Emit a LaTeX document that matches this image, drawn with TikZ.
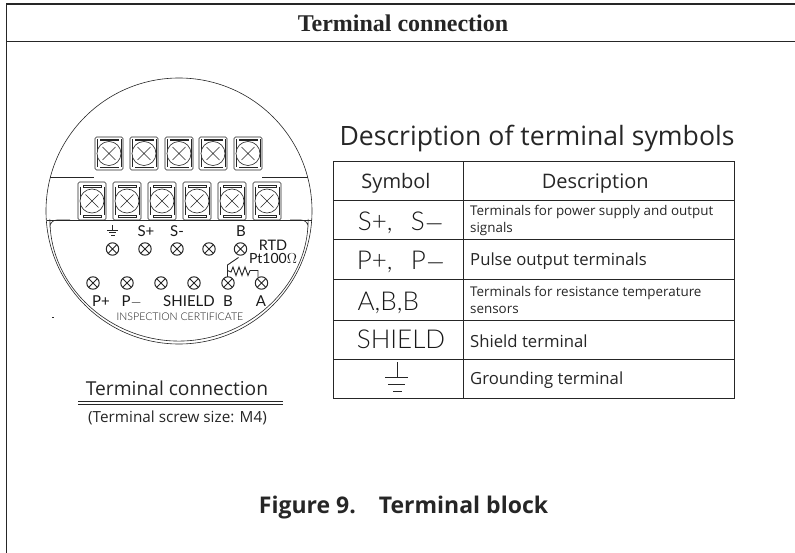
\documentclass[tikz,border=0pt]{standalone}
\usepackage{fontspec}
\setmainfont{Open Sans}
\newfontfamily\headfont{Liberation Serif}
\newfontfamily\cadfont{Lato Light}
\newfontfamily\blockfont{Lato}
\tikzset{
  plate/.style={line width=0.6pt, color=black!85},
  wire/.style={line width=0.9pt, color=black!85},
  rule/.style={line width=1pt, color=black!85},
  cadtext/.style={inner sep=0pt, text=black!90, anchor=base},
  desc/.style={anchor=west, inner sep=0pt, align=left, text=black!85},
  capt/.style={inner sep=0pt, text=black!85, anchor=base}
}
% one clamp of the terminal block: x y height
\newcommand{\clamp}[3]{
  \draw[plate,rounded corners=1.5pt] (#1-14,#2-#3/2) rectangle (#1+14,#2+#3/2);
  \draw[plate] (#1-12,#2-14) -- (#1-12,#2+14) (#1+12,#2-14) -- (#1+12,#2+14);
  \draw[plate] (#1-9,#2-14) rectangle (#1+9,#2-#3/2+3);
  \draw[plate] (#1-9,#2+14) rectangle (#1+9,#2+#3/2-3);
  \draw[plate,fill=white] (#1,#2) circle (12);
  \draw[plate] (#1-6.5,#2-6.5) -- (#1+6.5,#2+6.5) (#1-6.5,#2+6.5) -- (#1+6.5,#2-6.5);
}
\newcommand{\screw}[2]{
  \draw[line width=1pt,color=black!85] (#1,#2) circle (6.2);
  \draw[line width=0.9pt,color=black!85] (#1-4.3,#2-4.3) -- (#1+4.3,#2+4.3) (#1-4.3,#2+4.3) -- (#1+4.3,#2-4.3);
}
\begin{document}
\begin{tikzpicture}[x=1pt,y=-1pt]
\useasboundingbox (0,0) rectangle (795,553);
% frame
\draw[rule,line width=1.4pt] (795,4) -- (6.5,4) -- (6.5,553);
\draw[rule,line width=1.4pt] (6.5,41.7) -- (795,41.7);
\node[capt,font=\headfont\bfseries\fontsize{24}{26}\selectfont] (head) at (403,32) {Terminal connection};
% housing
\draw[plate] (179,211) circle (133);
\draw[plate] (50.4,177) -- (94,177) (262,177) -- (307.6,177);
\draw[plate] (46.5,220) -- (311.5,220);
\draw[plate,rounded corners=7pt] (70,220) -- (49.9,220) -- (49.9,226) arc[start angle=173.4,end angle=6.6,radius=130] -- (308.1,220) -- (290,220);
\foreach \x in {109,144,179,213,248}
  \clamp{\x}{153.5}{33};
\foreach \x in {92,127,162,197,232,267}
  \clamp{\x}{201}{38};
\foreach \x in {112.5,145,177,209,240.5}
  \screw{\x}{249};
\foreach \x in {93,127,161,194,228,261.5}
  \screw{\x}{283};
% ground mark
\draw[plate] (112.7,225) -- (112.7,230) (107,230) -- (118,230) (109,232.7) -- (116,232.7) (111,235.3) -- (114.5,235.3);
% sensor wiring
\draw[wire] (238.5,257.5) -- (227.5,265) -- (227.5,277);
\draw[wire] (227.5,270.5) -- (231,272) -- (233,267) -- (236,275.5) -- (239,267) -- (242,275.5) -- (245,267) -- (248,275.5) -- (250,270.5) -- (258,270.5) -- (258,277.5);
% block labels
\foreach \t/\x/\y/\s [count=\i] in {S+/146/236.7/15,S-/177/236.7/15,B/241/236.7/15,RTD/273/250.5/14.5,Pt100$\Omega$/273/264/14,P+/101/306.7/15,P$-$/131.7/306.7/15,SHIELD/189/306.7/15,B/228/306.7/15,A/261/306.7/15}
  \node[cadtext,font=\blockfont\fontsize{\s}{\s}\selectfont] (lab\i) at (\x,\y) {\t};
\node[cadtext,font=\cadfont\fontsize{10.6}{11}\selectfont] (inspect) at (180,320.5) {INSPECTION CERTIFICATE};
\draw[plate] (52,317) -- (54,317);
% caption of the block
\node[capt,font=\fontsize{19.2}{22}\selectfont] (conn) at (177,395) {Terminal connection};
\draw[plate] (78,401) -- (283,401) (78,404) -- (283,404);
\node[capt,font=\fontsize{15.3}{18}\selectfont] (size) at (177.5,422.7) {(Terminal screw size: M4)};
% table
\node[capt,font=\fontsize{26.6}{30}\selectfont] (title) at (537,146) {Description of terminal symbols};
\draw[rule] (333.5,162) rectangle (734,398);
\draw[rule] (463.5,162) -- (463.5,398);
\foreach \y in {201,240,280,320,359}
  \draw[rule] (333.5,\y) -- (734,\y);
\node[capt,font=\fontsize{20}{24}\selectfont] (symhead) at (396,188.3) {Symbol};
\node[capt,font=\fontsize{20}{24}\selectfont] (deschead) at (595.3,188.3) {Description};
\node[cadtext,font=\cadfont\fontsize{26}{26}\selectfont] (sym1) at (401,230.7) {S+,\hspace{0.7em}S$-$};
\node[cadtext,font=\cadfont\fontsize{26}{26}\selectfont] (sym2) at (401,270) {P+,\hspace{0.7em}P$-$};
\node[cadtext,font=\cadfont\fontsize{26}{26}\selectfont] (sym3) at (388.3,310) {A,B,B};
\node[cadtext,font=\cadfont\fontsize{26}{26}\selectfont] (sym4) at (401,348.7) {SHIELD};
\draw[plate] (397,362) -- (397,377) (385,377) -- (408,377) (388,384.5) -- (405,384.5) (393,391) -- (402,391);
\node[desc,font=\fontsize{13.4}{17}\selectfont] (desc1) at (470,220.5) {Terminals for power supply and output\\signals};
\node[desc,anchor=base west,font=\fontsize{16.7}{20}\selectfont] (desc2) at (470,266) {Pulse output terminals};
\node[desc,font=\fontsize{13.4}{17}\selectfont] (desc3) at (470,300) {Terminals for resistance temperature\\sensors};
\node[desc,anchor=base west,font=\fontsize{16.7}{20}\selectfont] (desc4) at (470,347) {Shield terminal};
\node[desc,anchor=base west,font=\fontsize{16.7}{20}\selectfont] (desc5) at (470,384) {Grounding terminal};
% figure caption
\node[capt,font=\bfseries\fontsize{23}{28}\selectfont] (fig) at (403.5,513.3) {Figure 9.\quad Terminal block};
\end{tikzpicture}
\end{document}
